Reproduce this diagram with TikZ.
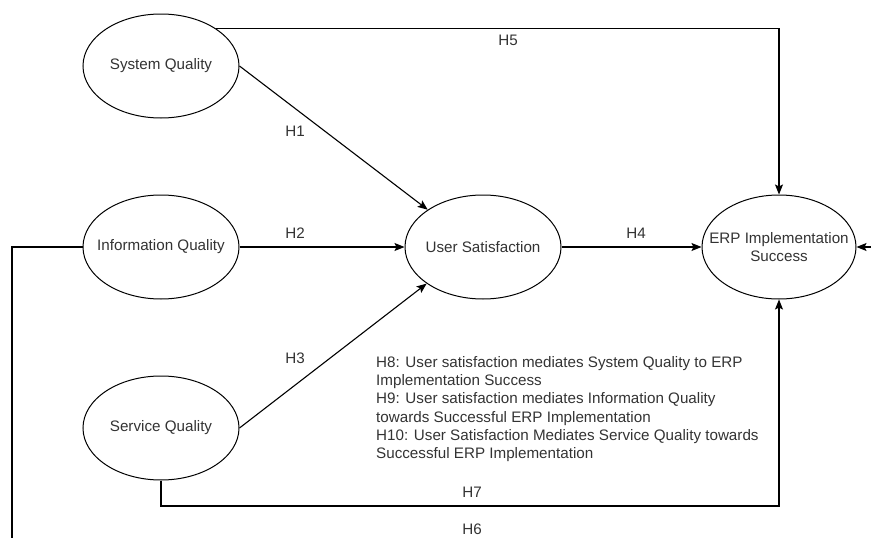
\documentclass[tikz,border=0pt]{standalone}
\usepackage{fontspec}
\setmainfont{Liberation Sans}
\usetikzlibrary{shapes.geometric,arrows.meta}
\definecolor{txt}{HTML}{333333}
\tikzset{
  lbl/.style={text=txt, font=\fontsize{15.2}{18.5}\selectfont, inner sep=0pt, align=center},
  construct/.style={draw=black, line width=1pt, ellipse, minimum width=156pt, minimum height=104pt, inner sep=0pt, label={[lbl]center:#1}},
  link/.style={draw=black, line width=1.1pt},
  arr/.style={link, -{Stealth[length=10pt,width=8pt,inset=2pt]}},
}
\begin{document}
\begin{tikzpicture}[x=1pt,y=-1pt]
\useasboundingbox (0,0) rectangle (871,538);
\node[construct={System Quality}] (sysq) at (161,66) {};
\node[construct={Information Quality}] (iq) at (161,247) {};
\node[construct={Service Quality}] (servq) at (161,428) {};
\node[construct={User Satisfaction}] (us) at (483,247) {};
\node[construct={ERP Implementation\\Success}, minimum width=154pt] (erp) at (779,247) {};
\coordinate (b7) at (779,506);
\coordinate (l6) at (12,538);
\coordinate (r6) at (875,247);
% H5
\draw[arr] (sysq.34) -| (erp.north);
% H1
\draw[arr] (sysq.east) -- (us.146);
% H2
\draw[arr] (iq.east) -- (us.west);
% H3
\draw[arr] (servq.east) -- (us.213);
% H4
\draw[arr] (us.east) -- (erp.west);
% H7
\draw[arr] (servq.south) |- (b7) -- (erp.south);
% H6
\draw[link] (iq.west) -| (l6);
\draw[arr] (r6) -- (erp.east);
% labels
\node[lbl] (h5) at (508,40) {H5};
\node[lbl] (h1) at (295,131) {H1};
\node[lbl] (h2) at (295,233) {H2};
\node[lbl] (h3) at (295,358) {H3};
\node[lbl] (h4) at (636,233) {H4};
\node[lbl] (h7) at (472,492) {H7};
\node[lbl] (h6) at (472,529) {H6};
\node[lbl, anchor=north west, align=left, font=\fontsize{15.2}{18.3}\selectfont] (note) at (376,356) {H8: User satisfaction mediates System Quality to ERP\\Implementation Success\\H9: User satisfaction mediates Information Quality\\towards Successful ERP Implementation\\H10: User Satisfaction Mediates Service Quality towards\\Successful ERP Implementation};
\end{tikzpicture}
\end{document}
